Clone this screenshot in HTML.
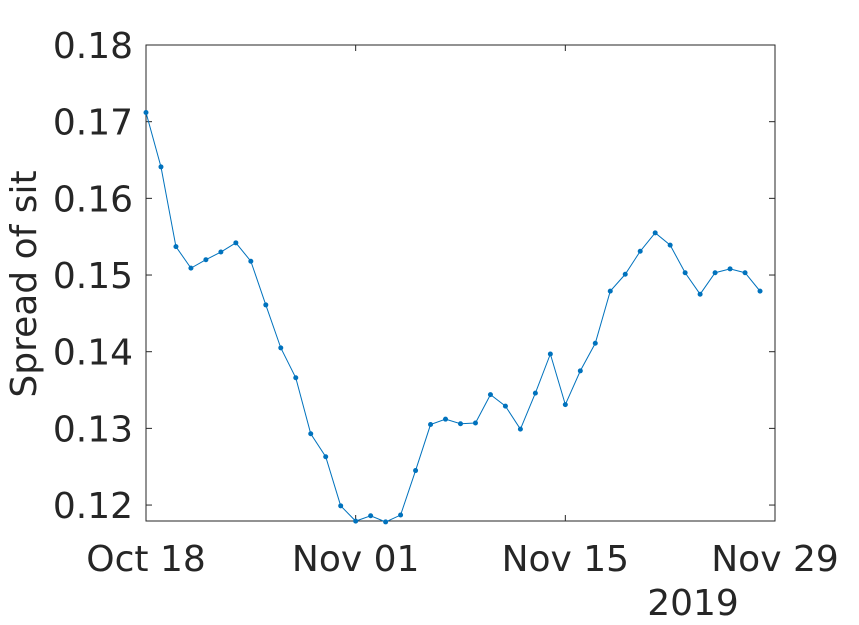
<!DOCTYPE html>
<html><head><meta charset="utf-8"><style>
html,body{margin:0;padding:0;background:#fff;}
svg{display:block;font-family:"DejaVu Sans","Liberation Sans",sans-serif;}
</style></head><body>
<svg id="chart" width="859" height="625" viewBox="0 0 859 625" xmlns="http://www.w3.org/2000/svg">
<rect x="0" y="0" width="859" height="625" fill="#fff"/>
<g id="axes"></g>
<g id="series"></g>
</svg>
<script>
const values=[0.1712,0.1641,0.1537,0.1509,0.1520,0.1530,0.1542,0.1518,0.1461,0.1405,0.1366,0.1293,0.1263,0.1199,0.1179,0.1186,0.1178,0.1187,0.1245,0.1305,0.1312,0.1306,0.1307,0.1344,0.1329,0.1299,0.1346,0.1397,0.1331,0.1375,0.1411,0.1479,0.1501,0.1531,0.1555,0.1539,0.1503,0.1475,0.1503,0.1508,0.1503,0.1479];
const yTicks=[0.12,0.13,0.14,0.15,0.16,0.17,0.18];
const yTickLabels=["0.12","0.13","0.14","0.15","0.16","0.17","0.18"];
const xTickDays=[0,14,28,42];
const xTickLabels=["Oct 18","Nov 01","Nov 15","Nov 29"];

const L=146,R=775,T=45,B=521,yMin=0.11792,yMax=0.18,dMax=42;
const NS="http://www.w3.org/2000/svg";
const xs=d=>L+(d/dMax)*(R-L);
const ys=v=>B-(v-yMin)/(yMax-yMin)*(B-T);
function mk(tag,attrs,parent){const e=document.createElementNS(NS,tag);for(const k in attrs)e.setAttribute(k,attrs[k]);parent.appendChild(e);return e;}
const ax=document.getElementById('axes'),sr=document.getElementById('series');

const box=mk('rect',{x:L,y:T,width:R-L,height:B-T,fill:'none',stroke:'#262626','stroke-width':1},ax);



yTicks.forEach((v,i)=>{const y=ys(v);
 const t1=mk('line',{x1:L,x2:L+6,y1:y,y2:y,stroke:'#262626'},ax);
 
 
 const t2=mk('line',{x1:R,x2:R-6,y1:y,y2:y,stroke:'#262626'},ax);
 
 
 const tx=mk('text',{x:133,y:y+13,'text-anchor':'end','font-size':36,fill:'#262626'},ax);
 tx.textContent=yTickLabels[i];
 
 
});
xTickDays.forEach((d,i)=>{const x=xs(d);
 const t1=mk('line',{x1:x,x2:x,y1:B,y2:B-6,stroke:'#262626'},ax);
 
 
 const t2=mk('line',{x1:x,x2:x,y1:T,y2:T+6,stroke:'#262626'},ax);
 
 
 const tx=mk('text',{x:x,y:571,'text-anchor':'middle','font-size':36,fill:'#262626'},ax);
 tx.textContent=xTickLabels[i];
 
 
});
const yr=mk('text',{x:693,y:615,'text-anchor':'middle','font-size':36,fill:'#262626'},ax);
yr.textContent='2019';


const yl=mk('text',{x:0,y:0,'text-anchor':'middle','font-size':36,fill:'#262626',transform:'translate(36,284) rotate(-90)'},ax);
yl.textContent='Spread of sit';



const pts=values.map((v,i)=>xs(i)+','+ys(v)).join(' ');
const pl=mk('polyline',{points:pts,fill:'none',stroke:'#0072BD','stroke-width':1},sr);


values.forEach((v,i)=>{
 const c=mk('circle',{cx:xs(i),cy:ys(v),r:2.5,fill:'#0072BD'},sr);
 
 
});
</script>
</body></html>
